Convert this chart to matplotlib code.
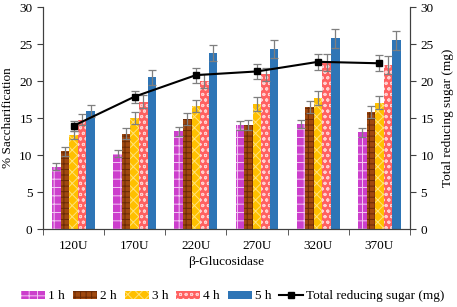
import matplotlib
matplotlib.use("Agg")
import matplotlib.pyplot as plt
import numpy as np
from matplotlib.patches import Patch
from matplotlib.lines import Line2D

plt.rcParams['font.family'] = ['Liberation Serif', 'DejaVu Serif']
plt.rcParams['hatch.linewidth'] = 0.7

categories = ['120U', '170U', '220U', '270U', '320U', '370U']
series_names = ['1 h', '2 h', '3 h', '4 h', '5 h']
h1 = [8.45, 10.2, 13.2, 14.0, 14.2, 13.1]
h2 = [10.5, 12.9, 14.9, 14.1, 16.5, 15.8]
h3 = [12.7, 15.0, 16.6, 16.9, 17.7, 17.1]
h4 = [14.8, 17.2, 20.0, 20.9, 22.5, 22.2]
h5 = [15.9, 20.5, 23.8, 24.3, 25.8, 25.5]
e1 = [0.5, 0.5, 0.6, 0.6, 0.6, 0.6]
e2 = [0.6, 0.7, 0.8, 0.7, 0.8, 0.8]
e3 = [0.6, 0.8, 0.8, 0.9, 0.9, 0.9]
e4 = [0.8, 0.9, 0.9, 0.9, 1.1, 1.2]
e5 = [0.8, 1.0, 1.1, 1.2, 1.3, 1.3]
sugar = [13.95, 17.9, 20.8, 21.3, 22.6, 22.4]
sugar_err = [0.7, 0.8, 1.0, 1.0, 1.1, 1.1]

values = [h1, h2, h3, h4, h5]
errors = [e1, e2, e3, e4, e5]
colors = ['#CC3FCC', '#A0490F', '#FFC000', '#FF6161', '#2E75B6']
hatches = ['--||', '+++', 'xxx', 'ooo', None]
hcolors = ['#F4C6F4', '#6A2A05', '#FFE27A', '#FFD0D0', None]

fig = plt.figure(figsize=(4.57, 3.07), dpi=100)
ax = fig.add_axes([0.094, 0.254, 0.803, 0.723])
x = np.arange(len(categories))
bw = 0.14
for i in range(5):
    pos = x + (i - 2) * bw
    ax.bar(pos, values[i], bw, color=colors[i], hatch=hatches[i],
           edgecolor=hcolors[i] if hcolors[i] else colors[i], linewidth=0, zorder=2)
    ax.errorbar(pos, values[i], yerr=errors[i], fmt='none', ecolor='#7F7F7F',
                elinewidth=0.9, capsize=3, capthick=0.9, zorder=3)

ax.set_xlim(-0.5, len(categories) - 0.5)
ax.set_ylim(0, 30)
ax.set_yticks(range(0, 31, 5))
ax.set_xticks(x)
ax.set_xticklabels(categories)
ax.set_xticks(np.arange(-0.5, len(categories)), minor=True)
ax.tick_params(axis='x', which='major', length=0, labelsize=9.5, pad=8)
ax.tick_params(axis='x', which='minor', length=4, color='#404040', direction='out')
ax.tick_params(axis='y', length=4, labelsize=9.5, color='#404040', direction='out')
ax.spines['top'].set_visible(False)
for s in ['left', 'bottom', 'right']:
    ax.spines[s].set_color('#404040')
ax.set_ylabel('% Saccharification', fontsize=9.5, labelpad=4)
ax.set_xlabel('β-Glucosidase', fontsize=9.5, labelpad=3)

ax2 = ax.twinx()
ax2.set_ylim(0, 30)
ax2.set_yticks(range(0, 31, 5))
ax2.errorbar(x, sugar, yerr=sugar_err, fmt='none', ecolor='#7F7F7F',
             elinewidth=0.9, capsize=3, capthick=0.9, zorder=4)
ax2.plot(x, sugar, color='black', marker='s', markersize=5, linewidth=1.5, zorder=5)
ax2.tick_params(axis='y', length=4, labelsize=9.5, color='#404040', direction='out')
ax2.spines['top'].set_visible(False)
for s in ['left', 'bottom', 'right']:
    ax2.spines[s].set_color('#404040')
ax2.set_ylabel('Total reducing sugar (mg)', fontsize=9.5, labelpad=6)

handles = []
for i in range(5):
    handles.append(Patch(facecolor=colors[i], hatch=hatches[i],
                         edgecolor=hcolors[i] if hcolors[i] else colors[i], linewidth=0))
handles.append(Line2D([0], [0], color='black', marker='s', markersize=4, linewidth=1.5))
labels = series_names + ['Total reducing sugar (mg)']
fig.legend(handles, labels, loc='center', bbox_to_anchor=(0.51, 0.035), ncol=6,
           frameon=False, fontsize=9.5, handlelength=1.8, handleheight=0.55,
           handletextpad=0.25, columnspacing=0.6)

fig.savefig('out.png', dpi=100)
